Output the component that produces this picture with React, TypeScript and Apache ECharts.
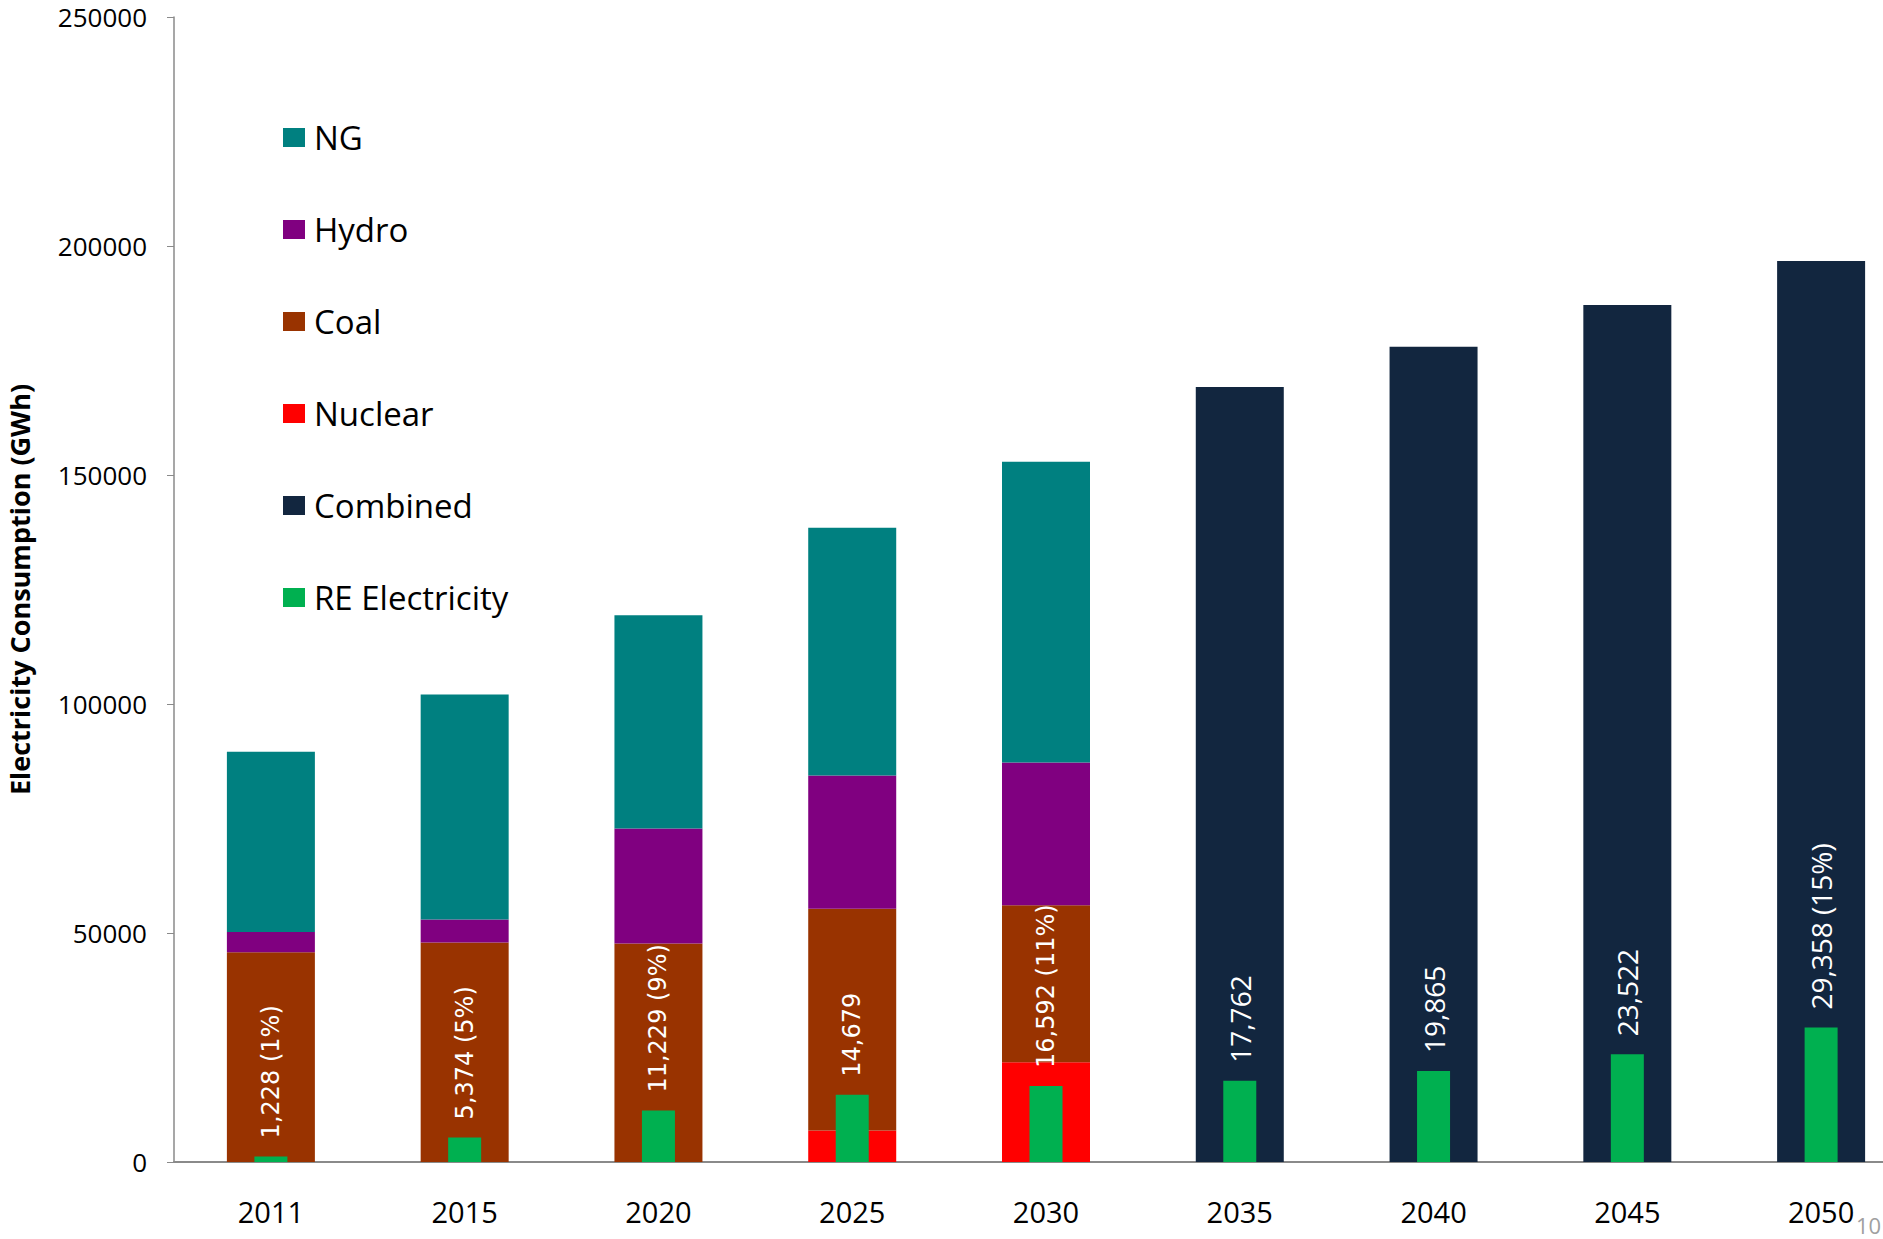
import React, { useEffect, useRef } from "react";
import * as echarts from "echarts";

const years = ["2011", "2015", "2020", "2025", "2030", "2035", "2040", "2045", "2050"];
const nuclear = [0, 0, 0, 6900, 21800, null, null, null, null];
const coal = [45800, 47900, 47700, 48400, 34250, null, null, null, null];
const hydro = [4440, 5050, 25120, 29100, 31200, null, null, null, null];
const ng = [39360, 49150, 46550, 54080, 65630, null, null, null, null];
const combined = [null, null, null, null, null, 169200, 178000, 187100, 196700];
const re = [1228, 5374, 11229, 14679, 16592, 17762, 19865, 23522, 29358];
const reLabels = [
  "1,228 (1%)",
  "5,374 (5%)",
  "11,229 (9%)",
  "14,679",
  "16,592 (11%)",
  "17,762",
  "19,865",
  "23,522",
  "29,358 (15%)",
];
const yTicks = [0, 50000, 100000, 150000, 200000, 250000];
const legendNames = ["NG", "Hydro", "Coal", "Nuclear", "Combined", "RE Electricity"];

const COLORS = {
  NG: "#008080",
  Hydro: "#800080",
  Coal: "#993300",
  Nuclear: "#FF0000",
  Combined: "#12263F",
  RE: "#00B050",
};

export default function App() {
  const ref = useRef<HTMLDivElement>(null);
  useEffect(() => {
    if (!ref.current) return;
    const chart = echarts.init(ref.current, null, { renderer: "svg" });
    const stackBar = (name: string, data: (number | null)[], color: string) => ({
      name,
      type: "bar",
      stack: "total",
      xAxisIndex: 0,
      barWidth: 88,
      data,
      itemStyle: { color },
    });
    chart.setOption({
      animation: false,
      textStyle: { fontFamily: "Open Sans" },
      grid: {
        left: 174,
        top: 17,
        bottom: 77,
        width: 1744,
        containLabel: false,
        outerBoundsMode: "none",
      },
      legend: {
        orient: "vertical",
        left: 278,
        top: 116,
        itemWidth: 22,
        itemHeight: 19,
        itemGap: 59,
        icon: "rect",
        data: legendNames,
        textStyle: { fontSize: 33, lineHeight: 33, color: "#000", fontFamily: "Open Sans", padding: [0, 0, 0, 4] },
      },
      xAxis: [
        {
          type: "category",
          data: years,
          axisLine: { lineStyle: { color: "#8a8a8a", width: 2 } },
          axisTick: { show: false },
          axisLabel: { fontSize: 29, color: "#000", margin: 35, fontFamily: "Open Sans" },
        },
        { type: "category", data: years, show: false },
      ],
      yAxis: {
        type: "value",
        min: yTicks[0],
        max: yTicks[yTicks.length - 1],
        interval: 50000,
        name: "Electricity Consumption (GWh)",
        nameLocation: "middle",
        nameRotate: 90,
        nameGap: 141,
        nameTextStyle: { fontSize: 27, fontWeight: "bold", color: "#000", fontFamily: "Open Sans" },
        axisLine: { show: true, lineStyle: { color: "#8a8a8a", width: 1.5 } },
        axisTick: { show: true, length: 7, lineStyle: { color: "#8a8a8a" } },
        splitLine: { show: false },
        axisLabel: {
          fontSize: 26,
          color: "#000",
          margin: 27,
          fontFamily: "Open Sans",
          formatter: (v: number) => String(v),
        },
      },
      series: [
        stackBar("Nuclear", nuclear, COLORS.Nuclear),
        stackBar("Coal", coal, COLORS.Coal),
        stackBar("Hydro", hydro, COLORS.Hydro),
        stackBar("NG", ng, COLORS.NG),
        stackBar("Combined", combined, COLORS.Combined),
        {
          name: "RE Electricity",
          type: "bar",
          xAxisIndex: 1,
          barWidth: 33,
          itemStyle: { color: COLORS.RE },
          data: re.map((v, i) => ({
            value: v,
            label: {
              fontFamily: i < 5 ? "DejaVu Sans" : "Open Sans",
              fontSize: i < 5 ? 24 : 28,
            },
          })),
          label: {
            show: true,
            position: "top",
            rotate: 90,
            align: "left",
            verticalAlign: "middle",
            distance: 18,
            color: "#fff",
            formatter: (p: any) => reLabels[p.dataIndex],
          },
        },
      ],
      graphic: [
        {
          type: "text",
          left: 1856,
          top: 1214,
          style: { text: "10", fontSize: 22, fill: "#a0a0a0", fontFamily: "Open Sans" },
        },
      ],
    });
    return () => chart.dispose();
  }, []);
  return (
    <div
      ref={ref}
      style={{ position: "absolute", left: 0, top: 0, width: 1883, height: 1239, background: "#fff" }}
    />
  );
}
